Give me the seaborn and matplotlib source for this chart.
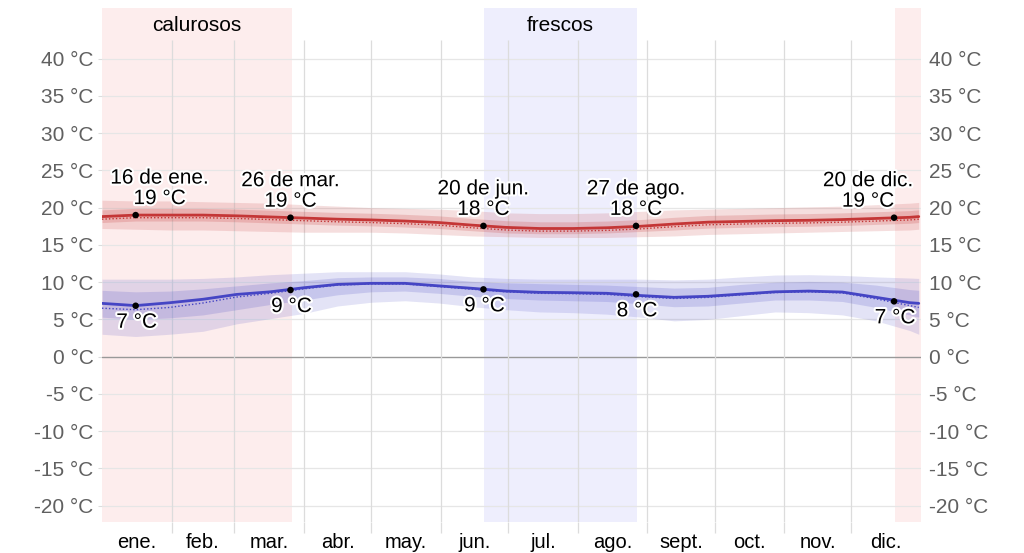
import matplotlib
matplotlib.use("Agg")
import matplotlib.pyplot as plt
import matplotlib.patheffects as pe
import seaborn as sns
import pandas as pd
import numpy as np

# ---------------- data ----------------
days = [0, 15, 30, 45, 60, 75, 90, 105, 120, 135, 150, 165, 180, 195, 210,
        225, 240, 255, 270, 285, 300, 315, 330, 345, 360, 364]

high = [18.8, 19.0, 19.0, 19.0, 18.9, 18.75, 18.6, 18.45, 18.35, 18.2, 18.0,
        17.65, 17.35, 17.2, 17.2, 17.3, 17.5, 17.8, 18.05, 18.15, 18.25, 18.3,
        18.4, 18.55, 18.7, 18.8]
high_dotted = [18.45, 18.65, 18.65, 18.65, 18.55, 18.4, 18.25, 18.1, 18.0,
               17.85, 17.65, 17.3, 17.0, 16.85, 16.85, 16.95, 17.15, 17.45,
               17.7, 17.8, 17.9, 17.95, 18.05, 18.2, 18.35, 18.45]
high_p90 = [21.0, 20.9, 20.9, 20.8, 20.7, 20.6, 20.4, 20.2, 20.0, 19.9, 19.8,
            19.6, 19.3, 19.2, 19.2, 19.3, 19.5, 19.7, 19.8, 19.9, 20.0, 20.1,
            20.2, 20.4, 20.6, 20.7]
high_p75 = [19.7, 19.9, 19.9, 19.9, 19.8, 19.65, 19.5, 19.35, 19.25, 19.1,
            18.9, 18.55, 18.25, 18.1, 18.1, 18.2, 18.4, 18.7, 18.95, 19.05,
            19.15, 19.2, 19.3, 19.45, 19.6, 19.7]
high_p25 = [18.0, 18.2, 18.2, 18.2, 18.1, 17.95, 17.8, 17.65, 17.55, 17.4,
            17.2, 16.9, 16.6, 16.5, 16.5, 16.6, 16.8, 17.0, 17.25, 17.35,
            17.45, 17.5, 17.6, 17.75, 17.9, 18.0]
high_p10 = [17.2, 17.1, 17.0, 17.0, 16.9, 16.8, 16.7, 16.7, 16.7, 16.6, 16.4,
            16.2, 16.1, 16.0, 16.0, 16.0, 16.1, 16.2, 16.4, 16.5, 16.6, 16.7,
            16.8, 16.9, 17.0, 17.1]

low = [7.15, 6.85, 7.23, 7.7, 8.35, 8.7, 9.25, 9.7, 9.84, 9.84, 9.5, 9.17,
       8.8, 8.63, 8.58, 8.5, 8.2, 7.96, 8.1, 8.4, 8.7, 8.8, 8.67, 7.96, 7.24,
       7.15]
low_dotted = [6.5, 6.3, 6.6, 7.2, 8.0, 8.5, 9.1, 9.6, 9.75, 9.75, 9.4, 9.05,
              8.7, 8.5, 8.45, 8.35, 8.05, 7.8, 7.95, 8.3, 8.6, 8.7, 8.55, 7.75,
              6.85, 6.6]
low_p90 = [10.4, 10.4, 10.4, 10.5, 10.7, 11.0, 11.2, 11.4, 11.4, 11.4, 11.1,
           10.7, 10.5, 10.4, 10.4, 10.4, 10.4, 10.3, 10.4, 10.7, 10.95, 11.0,
           10.9, 10.7, 10.55, 10.5]
low_p75 = [8.9, 8.7, 8.8, 9.1, 9.5, 9.9, 10.2, 10.6, 10.7, 10.7, 10.5, 10.1,
           9.9, 9.8, 9.7, 9.6, 9.4, 9.2, 9.3, 9.7, 10.0, 10.1, 10.0, 9.6, 9.0,
           8.9]
low_p25 = [5.3, 5.0, 5.2, 5.6, 6.3, 7.0, 7.6, 8.3, 8.7, 8.8, 8.5, 8.1, 7.8,
           7.6, 7.5, 7.4, 7.1, 6.7, 6.8, 7.2, 7.6, 7.6, 7.4, 6.6, 5.6, 5.3]
low_p10 = [3.0, 2.7, 3.0, 3.4, 4.4, 5.1, 5.8, 6.8, 7.3, 7.5, 7.2, 6.7, 6.3,
           6.0, 5.9, 5.7, 5.3, 4.8, 5.0, 5.5, 6.0, 5.9, 5.6, 4.8, 3.5, 3.0]

ann_days = [15, 84, 170, 238, 353]
ann_dates = ["16 de ene.", "26 de mar.", "20 de jun.", "27 de ago.", "20 de dic."]
ann_high = [19.0, 18.65, 17.55, 17.55, 18.65]
ann_high_txt = ["19 °C", "19 °C", "18 °C", "18 °C", "19 °C"]
ann_low = [6.83, 8.94, 9.03, 8.36, 7.42]
ann_low_txt = ["7 °C", "9 °C", "9 °C", "8 °C", "7 °C"]

month_starts = [0, 31, 59, 90, 120, 151, 181, 212, 243, 273, 304, 334, 365]
month_labels = ["ene.", "feb.", "mar.", "abr.", "may.", "jun.", "jul.",
                "ago.", "sept.", "oct.", "nov.", "dic."]

hot_season = [(0, 84.5), (353.5, 365)]
cool_season = (170.2, 238.5)
season_labels = ["calurosos", "frescos"]

y_ticks = list(range(-20, 45, 5))

# ---------------- style ----------------
sns.set_theme(style="white")
plt.rcParams["font.family"] = ["Liberation Sans", "DejaVu Sans"]

RED = "#c43636"
BLUE = "#4545c4"
GRID = "#dcdcdc"
FS = 15

fig = plt.figure(figsize=(10.24, 5.53), dpi=100)
ax = fig.add_axes([102 / 1024, 1 - 522 / 553, (921 - 102) / 1024, (522 - 8) / 553])
ax.set_xlim(0, 365)
ax.set_ylim(-22.2, 46.8)
for s in ax.spines.values():
    s.set_visible(False)

# season shading
for a, b in hot_season:
    ax.axvspan(a, b, color="#fdeded", zorder=0, lw=0)
ax.axvspan(cool_season[0], cool_season[1], color="#eeeefd", zorder=0, lw=0)
ax.text(np.mean(hot_season[0]), 44.4, season_labels[0], ha="center", va="center",
        fontsize=FS, color="black")
ax.text(np.mean(cool_season), 44.4, season_labels[1], ha="center", va="center",
        fontsize=FS, color="black")

# grid
for t in y_ticks:
    ax.axhline(t, color="#999999" if t == 0 else "#e6e6e6",
               lw=1.0 if t == 0 else 0.9, zorder=1)
ax.vlines(month_starts[1:-1], 0, 0.938, transform=ax.get_xaxis_transform(),
          color=GRID, lw=0.9, zorder=1)

# bands
d = np.array(days)
ax.fill_between(d, high_p10, high_p90, color=RED, alpha=0.16, lw=0, zorder=2)
ax.fill_between(d, high_p25, high_p75, color=RED, alpha=0.2, lw=0, zorder=2)
ax.fill_between(d, low_p10, low_p90, color=BLUE, alpha=0.15, lw=0, zorder=2)
ax.fill_between(d, low_p25, low_p75, color=BLUE, alpha=0.18, lw=0, zorder=2)

df = pd.DataFrame({"day": days, "high": high, "high_dotted": high_dotted,
                   "low": low, "low_dotted": low_dotted})
sns.lineplot(data=df, x="day", y="high_dotted", ax=ax, color=RED, lw=1.0,
             linestyle=(0, (1, 1.5)), zorder=3)
sns.lineplot(data=df, x="day", y="low_dotted", ax=ax, color=BLUE, lw=1.0,
             linestyle=(0, (1, 1.5)), zorder=3)
sns.lineplot(data=df, x="day", y="high", ax=ax, color=RED, lw=2.0, zorder=4)
sns.lineplot(data=df, x="day", y="low", ax=ax, color=BLUE, lw=2.0, zorder=4)

# annotation points
pts = pd.DataFrame({"day": ann_days * 2, "temp": ann_high + ann_low})
sns.scatterplot(data=pts, x="day", y="temp", ax=ax, color="black", s=22,
                edgecolor="none", zorder=6)

halo = [pe.withStroke(linewidth=3, foreground="white")]
high_dx = [24, 0, 0, 0, -26]
for i in range(len(ann_days)):
    ax.annotate(ann_dates[i] + "\n" + ann_high_txt[i],
                xy=(ann_days[i], ann_high[i]), xytext=(high_dx[i], 7),
                textcoords="offset pixels", ha="center", va="bottom",
                fontsize=FS, color="black", path_effects=halo, zorder=7,
                linespacing=1.1)
    ax.annotate(ann_low_txt[i], xy=(ann_days[i], ann_low[i]),
                xytext=(1, -7), textcoords="offset pixels", ha="center",
                va="top", fontsize=FS, color="black", path_effects=halo,
                zorder=7)

# axes ticks
ax.set_xlabel("")
ax.set_ylabel("")
ax.set_yticks(y_ticks)
ax.set_yticklabels([f"{t} °C" for t in y_ticks])
ax.tick_params(axis="y", which="both", labelleft=True, labelright=True,
               left=True, right=False, length=3, width=0.8, color=GRID,
               labelsize=FS, labelcolor="#606060", pad=3)
ax.set_xticks(month_starts[1:-1])
ax.set_xticklabels([])
mids = [(month_starts[i] + month_starts[i + 1]) / 2 for i in range(12)]
ax.set_xticks(mids, minor=True)
ax.set_xticklabels(month_labels, minor=True)
ax.tick_params(axis="x", which="major", length=8, width=0.9, color=GRID,
               bottom=True)
ax.tick_params(axis="x", which="minor", length=0, labelsize=14.5,
               labelcolor="black", pad=8)

fig.savefig("out.png", dpi=100)
